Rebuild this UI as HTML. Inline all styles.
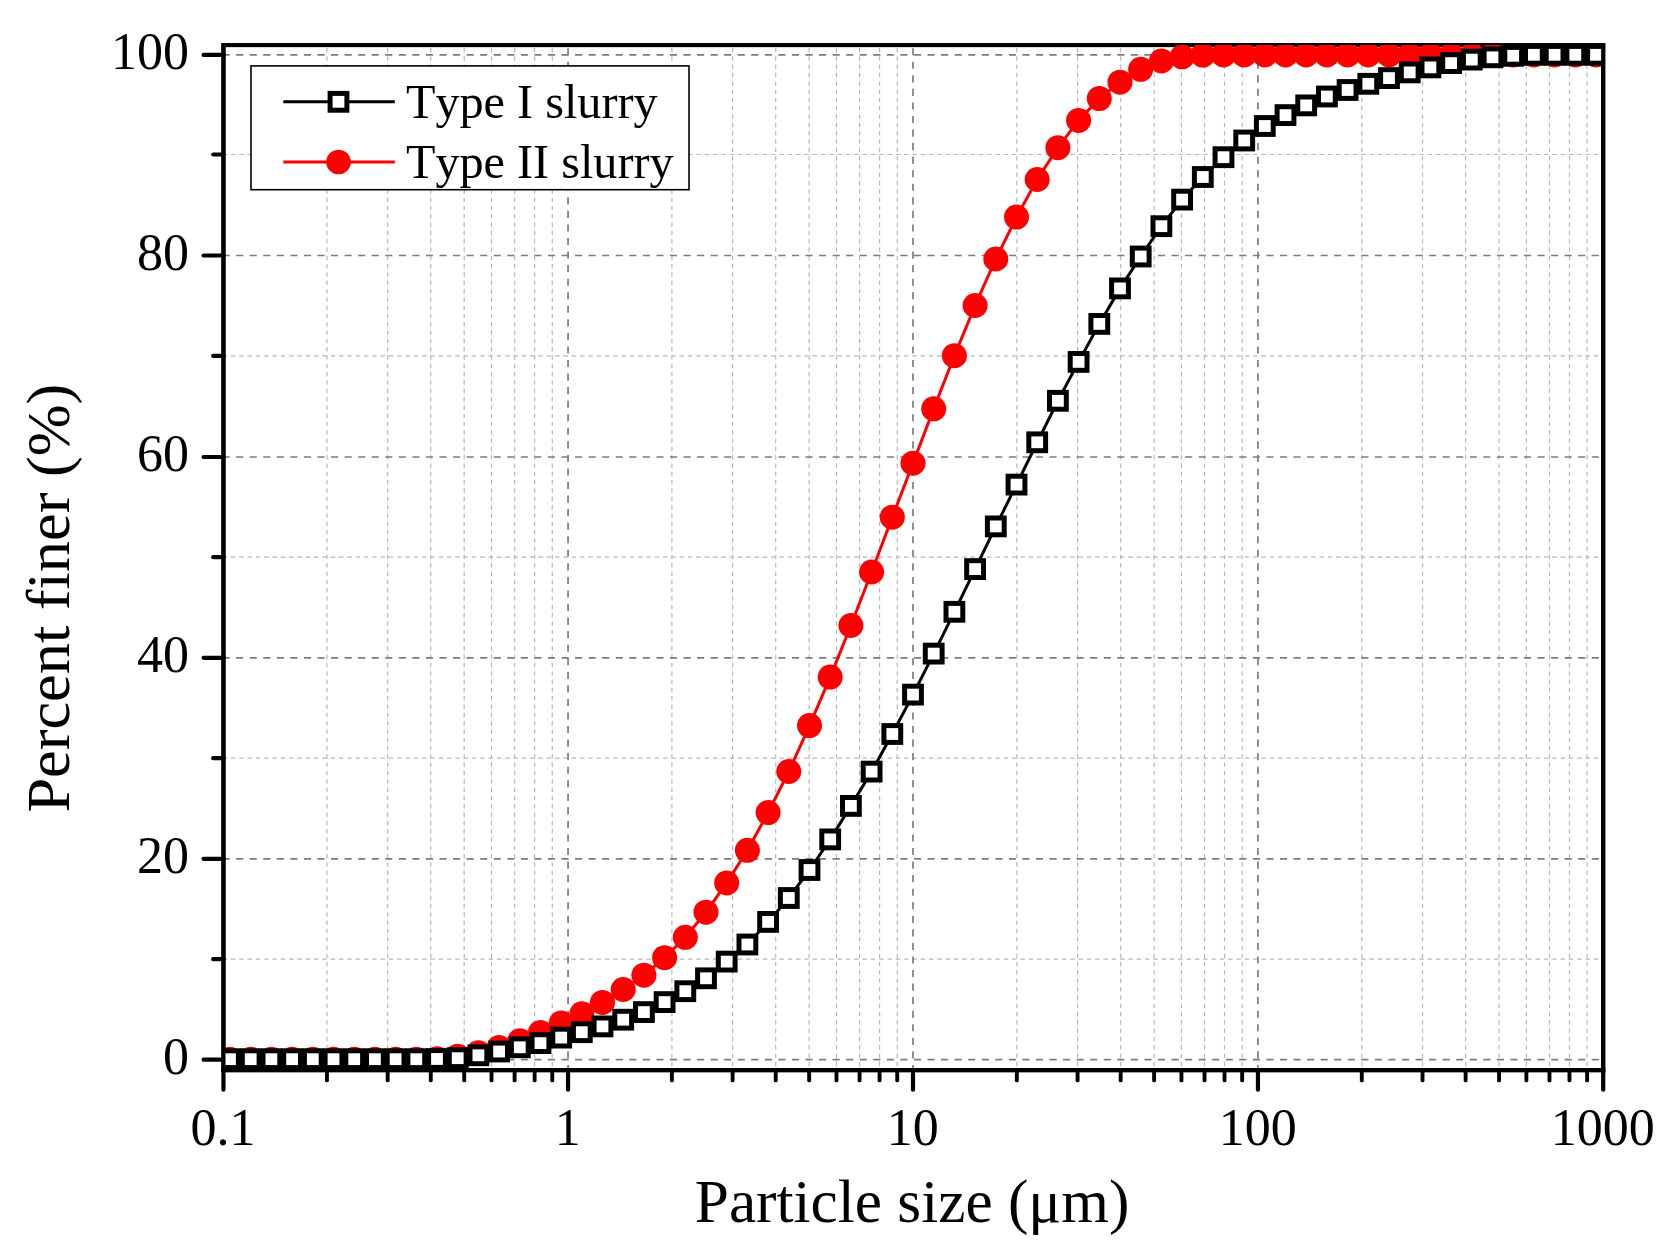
<!DOCTYPE html>
<html lang="en"><head><meta charset="utf-8"><title>Particle size distribution</title>
<style>html,body{margin:0;padding:0;background:#fff}svg{display:block}</style></head>
<body>
<svg width="1673" height="1256" viewBox="0 0 1673 1256">
<rect width="1673" height="1256" fill="#fff"/>
<defs><clipPath id="c"><rect x="223.45" y="45" width="1379.75" height="1025"/></clipPath></defs>
<g fill="none">
<line x1="326.94" y1="47.9" x2="326.94" y2="1070.1" stroke="#b8b8b8" stroke-width="1.2" stroke-dasharray="4.5 3.81"/>
<line x1="387.68" y1="47.9" x2="387.68" y2="1070.1" stroke="#b8b8b8" stroke-width="1.2" stroke-dasharray="4.5 3.81"/>
<line x1="430.78" y1="47.9" x2="430.78" y2="1070.1" stroke="#b8b8b8" stroke-width="1.2" stroke-dasharray="4.5 3.81"/>
<line x1="464.21" y1="47.9" x2="464.21" y2="1070.1" stroke="#b8b8b8" stroke-width="1.2" stroke-dasharray="4.5 3.81"/>
<line x1="491.52" y1="47.9" x2="491.52" y2="1070.1" stroke="#b8b8b8" stroke-width="1.2" stroke-dasharray="4.5 3.81"/>
<line x1="514.62" y1="47.9" x2="514.62" y2="1070.1" stroke="#b8b8b8" stroke-width="1.2" stroke-dasharray="4.5 3.81"/>
<line x1="534.62" y1="47.9" x2="534.62" y2="1070.1" stroke="#b8b8b8" stroke-width="1.2" stroke-dasharray="4.5 3.81"/>
<line x1="552.27" y1="47.9" x2="552.27" y2="1070.1" stroke="#b8b8b8" stroke-width="1.2" stroke-dasharray="4.5 3.81"/>
<line x1="671.89" y1="47.9" x2="671.89" y2="1070.1" stroke="#b8b8b8" stroke-width="1.2" stroke-dasharray="4.5 3.81"/>
<line x1="732.63" y1="47.9" x2="732.63" y2="1070.1" stroke="#b8b8b8" stroke-width="1.2" stroke-dasharray="4.5 3.81"/>
<line x1="775.73" y1="47.9" x2="775.73" y2="1070.1" stroke="#b8b8b8" stroke-width="1.2" stroke-dasharray="4.5 3.81"/>
<line x1="809.16" y1="47.9" x2="809.16" y2="1070.1" stroke="#b8b8b8" stroke-width="1.2" stroke-dasharray="4.5 3.81"/>
<line x1="836.47" y1="47.9" x2="836.47" y2="1070.1" stroke="#b8b8b8" stroke-width="1.2" stroke-dasharray="4.5 3.81"/>
<line x1="859.57" y1="47.9" x2="859.57" y2="1070.1" stroke="#b8b8b8" stroke-width="1.2" stroke-dasharray="4.5 3.81"/>
<line x1="879.57" y1="47.9" x2="879.57" y2="1070.1" stroke="#b8b8b8" stroke-width="1.2" stroke-dasharray="4.5 3.81"/>
<line x1="897.22" y1="47.9" x2="897.22" y2="1070.1" stroke="#b8b8b8" stroke-width="1.2" stroke-dasharray="4.5 3.81"/>
<line x1="1016.84" y1="47.9" x2="1016.84" y2="1070.1" stroke="#b8b8b8" stroke-width="1.2" stroke-dasharray="4.5 3.81"/>
<line x1="1077.58" y1="47.9" x2="1077.58" y2="1070.1" stroke="#b8b8b8" stroke-width="1.2" stroke-dasharray="4.5 3.81"/>
<line x1="1120.68" y1="47.9" x2="1120.68" y2="1070.1" stroke="#b8b8b8" stroke-width="1.2" stroke-dasharray="4.5 3.81"/>
<line x1="1154.11" y1="47.9" x2="1154.11" y2="1070.1" stroke="#b8b8b8" stroke-width="1.2" stroke-dasharray="4.5 3.81"/>
<line x1="1181.42" y1="47.9" x2="1181.42" y2="1070.1" stroke="#b8b8b8" stroke-width="1.2" stroke-dasharray="4.5 3.81"/>
<line x1="1204.52" y1="47.9" x2="1204.52" y2="1070.1" stroke="#b8b8b8" stroke-width="1.2" stroke-dasharray="4.5 3.81"/>
<line x1="1224.52" y1="47.9" x2="1224.52" y2="1070.1" stroke="#b8b8b8" stroke-width="1.2" stroke-dasharray="4.5 3.81"/>
<line x1="1242.17" y1="47.9" x2="1242.17" y2="1070.1" stroke="#b8b8b8" stroke-width="1.2" stroke-dasharray="4.5 3.81"/>
<line x1="1361.79" y1="47.9" x2="1361.79" y2="1070.1" stroke="#b8b8b8" stroke-width="1.2" stroke-dasharray="4.5 3.81"/>
<line x1="1422.53" y1="47.9" x2="1422.53" y2="1070.1" stroke="#b8b8b8" stroke-width="1.2" stroke-dasharray="4.5 3.81"/>
<line x1="1465.63" y1="47.9" x2="1465.63" y2="1070.1" stroke="#b8b8b8" stroke-width="1.2" stroke-dasharray="4.5 3.81"/>
<line x1="1499.06" y1="47.9" x2="1499.06" y2="1070.1" stroke="#b8b8b8" stroke-width="1.2" stroke-dasharray="4.5 3.81"/>
<line x1="1526.37" y1="47.9" x2="1526.37" y2="1070.1" stroke="#b8b8b8" stroke-width="1.2" stroke-dasharray="4.5 3.81"/>
<line x1="1549.47" y1="47.9" x2="1549.47" y2="1070.1" stroke="#b8b8b8" stroke-width="1.2" stroke-dasharray="4.5 3.81"/>
<line x1="1569.47" y1="47.9" x2="1569.47" y2="1070.1" stroke="#b8b8b8" stroke-width="1.2" stroke-dasharray="4.5 3.81"/>
<line x1="1587.12" y1="47.9" x2="1587.12" y2="1070.1" stroke="#b8b8b8" stroke-width="1.2" stroke-dasharray="4.5 3.81"/>
<line x1="222.6" y1="959.20" x2="1603.2" y2="959.20" stroke="#b8b8b8" stroke-width="1.2" stroke-dasharray="4.5 3.81"/>
<line x1="222.6" y1="758.20" x2="1603.2" y2="758.20" stroke="#b8b8b8" stroke-width="1.2" stroke-dasharray="4.5 3.81"/>
<line x1="222.6" y1="557.20" x2="1603.2" y2="557.20" stroke="#b8b8b8" stroke-width="1.2" stroke-dasharray="4.5 3.81"/>
<line x1="222.6" y1="355.90" x2="1603.2" y2="355.90" stroke="#b8b8b8" stroke-width="1.2" stroke-dasharray="4.5 3.81"/>
<line x1="222.6" y1="154.50" x2="1603.2" y2="154.50" stroke="#b8b8b8" stroke-width="1.2" stroke-dasharray="4.5 3.81"/>
<line x1="568.05" y1="48.2" x2="568.05" y2="1070.1" stroke="#7c7c7c" stroke-width="1.7" stroke-dasharray="7.1 6.456"/>
<line x1="913.00" y1="48.2" x2="913.00" y2="1070.1" stroke="#7c7c7c" stroke-width="1.7" stroke-dasharray="7.1 6.456"/>
<line x1="1257.95" y1="48.2" x2="1257.95" y2="1070.1" stroke="#7c7c7c" stroke-width="1.7" stroke-dasharray="7.1 6.456"/>
<line x1="222.6" y1="1059.70" x2="1603.2" y2="1059.70" stroke="#7c7c7c" stroke-width="1.7" stroke-dasharray="7.1 6.456"/>
<line x1="222.6" y1="858.80" x2="1603.2" y2="858.80" stroke="#7c7c7c" stroke-width="1.7" stroke-dasharray="7.1 6.456"/>
<line x1="222.6" y1="657.80" x2="1603.2" y2="657.80" stroke="#7c7c7c" stroke-width="1.7" stroke-dasharray="7.1 6.456"/>
<line x1="222.6" y1="457.00" x2="1603.2" y2="457.00" stroke="#7c7c7c" stroke-width="1.7" stroke-dasharray="7.1 6.456"/>
<line x1="222.6" y1="255.50" x2="1603.2" y2="255.50" stroke="#7c7c7c" stroke-width="1.7" stroke-dasharray="7.1 6.456"/>
<line x1="222.6" y1="54.90" x2="1603.2" y2="54.90" stroke="#7c7c7c" stroke-width="1.7" stroke-dasharray="7.1 6.456"/>
</g>
<g fill="none" stroke="#000" stroke-width="4.1" stroke-linecap="round">
<rect x="223.45" y="45.1" width="1379.75" height="1025.00" stroke-linejoin="miter"/>
<line x1="203.6" y1="1059.70" x2="223.45" y2="1059.70" stroke-width="4.2"/>
<line x1="203.6" y1="858.80" x2="223.45" y2="858.80" stroke-width="4.2"/>
<line x1="203.6" y1="657.80" x2="223.45" y2="657.80" stroke-width="4.2"/>
<line x1="203.6" y1="457.00" x2="223.45" y2="457.00" stroke-width="4.2"/>
<line x1="203.6" y1="255.50" x2="223.45" y2="255.50" stroke-width="4.2"/>
<line x1="203.6" y1="54.90" x2="223.45" y2="54.90" stroke-width="4.2"/>
<line x1="213.2" y1="959.20" x2="223.45" y2="959.20" stroke-width="4.2"/>
<line x1="213.2" y1="758.20" x2="223.45" y2="758.20" stroke-width="4.2"/>
<line x1="213.2" y1="557.20" x2="223.45" y2="557.20" stroke-width="4.2"/>
<line x1="213.2" y1="355.90" x2="223.45" y2="355.90" stroke-width="4.2"/>
<line x1="213.2" y1="154.50" x2="223.45" y2="154.50" stroke-width="4.2"/>
<line x1="223.45" y1="1070.1" x2="223.45" y2="1089.7" stroke-width="4.2"/>
<line x1="568.05" y1="1070.1" x2="568.05" y2="1089.7" stroke-width="4.2"/>
<line x1="913.00" y1="1070.1" x2="913.00" y2="1089.7" stroke-width="4.2"/>
<line x1="1257.95" y1="1070.1" x2="1257.95" y2="1089.7" stroke-width="4.2"/>
<line x1="1603.20" y1="1070.1" x2="1603.20" y2="1089.7" stroke-width="4.2"/>
<line x1="326.94" y1="1070.1" x2="326.94" y2="1080.4" stroke-width="3.9"/>
<line x1="387.68" y1="1070.1" x2="387.68" y2="1080.4" stroke-width="3.9"/>
<line x1="430.78" y1="1070.1" x2="430.78" y2="1080.4" stroke-width="3.9"/>
<line x1="464.21" y1="1070.1" x2="464.21" y2="1080.4" stroke-width="3.9"/>
<line x1="491.52" y1="1070.1" x2="491.52" y2="1080.4" stroke-width="3.9"/>
<line x1="514.62" y1="1070.1" x2="514.62" y2="1080.4" stroke-width="3.9"/>
<line x1="534.62" y1="1070.1" x2="534.62" y2="1080.4" stroke-width="3.9"/>
<line x1="552.27" y1="1070.1" x2="552.27" y2="1080.4" stroke-width="3.9"/>
<line x1="671.89" y1="1070.1" x2="671.89" y2="1080.4" stroke-width="3.9"/>
<line x1="732.63" y1="1070.1" x2="732.63" y2="1080.4" stroke-width="3.9"/>
<line x1="775.73" y1="1070.1" x2="775.73" y2="1080.4" stroke-width="3.9"/>
<line x1="809.16" y1="1070.1" x2="809.16" y2="1080.4" stroke-width="3.9"/>
<line x1="836.47" y1="1070.1" x2="836.47" y2="1080.4" stroke-width="3.9"/>
<line x1="859.57" y1="1070.1" x2="859.57" y2="1080.4" stroke-width="3.9"/>
<line x1="879.57" y1="1070.1" x2="879.57" y2="1080.4" stroke-width="3.9"/>
<line x1="897.22" y1="1070.1" x2="897.22" y2="1080.4" stroke-width="3.9"/>
<line x1="1016.84" y1="1070.1" x2="1016.84" y2="1080.4" stroke-width="3.9"/>
<line x1="1077.58" y1="1070.1" x2="1077.58" y2="1080.4" stroke-width="3.9"/>
<line x1="1120.68" y1="1070.1" x2="1120.68" y2="1080.4" stroke-width="3.9"/>
<line x1="1154.11" y1="1070.1" x2="1154.11" y2="1080.4" stroke-width="3.9"/>
<line x1="1181.42" y1="1070.1" x2="1181.42" y2="1080.4" stroke-width="3.9"/>
<line x1="1204.52" y1="1070.1" x2="1204.52" y2="1080.4" stroke-width="3.9"/>
<line x1="1224.52" y1="1070.1" x2="1224.52" y2="1080.4" stroke-width="3.9"/>
<line x1="1242.17" y1="1070.1" x2="1242.17" y2="1080.4" stroke-width="3.9"/>
<line x1="1361.79" y1="1070.1" x2="1361.79" y2="1080.4" stroke-width="3.9"/>
<line x1="1422.53" y1="1070.1" x2="1422.53" y2="1080.4" stroke-width="3.9"/>
<line x1="1465.63" y1="1070.1" x2="1465.63" y2="1080.4" stroke-width="3.9"/>
<line x1="1499.06" y1="1070.1" x2="1499.06" y2="1080.4" stroke-width="3.9"/>
<line x1="1526.37" y1="1070.1" x2="1526.37" y2="1080.4" stroke-width="3.9"/>
<line x1="1549.47" y1="1070.1" x2="1549.47" y2="1080.4" stroke-width="3.9"/>
<line x1="1569.47" y1="1070.1" x2="1569.47" y2="1080.4" stroke-width="3.9"/>
<line x1="1587.12" y1="1070.1" x2="1587.12" y2="1080.4" stroke-width="3.9"/>
</g>
<g clip-path="url(#c)">
<polyline fill="none" stroke="#ff0000" stroke-width="3" points="230.0,1059.2 250.7,1059.2 271.4,1059.2 292.1,1059.2 312.8,1059.2 333.5,1059.2 354.2,1059.2 374.9,1059.2 395.6,1059.2 416.3,1059.2 437.0,1058.7 457.7,1056.2 478.4,1052.8 499.1,1047.4 519.8,1040.8 540.5,1032.4 561.2,1023.0 581.8,1013.8 602.5,1002.4 623.2,989.5 643.9,975.2 664.6,957.7 685.3,937.3 706.0,912.2 726.7,882.9 747.4,850.3 768.1,812.6 788.8,771.5 809.5,725.6 830.2,677.1 850.9,625.5 871.6,572.0 892.3,517.2 913.0,463.2 933.7,408.8 954.4,355.7 975.1,305.5 995.8,259.0 1016.5,217.1 1037.2,179.5 1057.9,147.7 1078.6,120.4 1099.3,98.6 1120.0,82.2 1140.7,69.3 1161.4,61.0 1182.1,56.8 1202.8,55.1 1223.5,54.9 1244.2,54.9 1264.8,54.9 1285.5,54.9 1306.2,54.9 1326.9,54.9 1347.6,54.9 1368.3,54.9 1389.0,54.9 1409.7,54.9 1430.4,54.9 1451.1,54.9 1471.8,54.9 1492.5,54.9 1513.2,54.9 1533.9,54.9 1554.6,54.9 1575.3,54.9 1596.0,54.9"/>
<g fill="#ff0000"><circle cx="230.0" cy="1059.2" r="12.5"/><circle cx="250.7" cy="1059.2" r="12.5"/><circle cx="271.4" cy="1059.2" r="12.5"/><circle cx="292.1" cy="1059.2" r="12.5"/><circle cx="312.8" cy="1059.2" r="12.5"/><circle cx="333.5" cy="1059.2" r="12.5"/><circle cx="354.2" cy="1059.2" r="12.5"/><circle cx="374.9" cy="1059.2" r="12.5"/><circle cx="395.6" cy="1059.2" r="12.5"/><circle cx="416.3" cy="1059.2" r="12.5"/><circle cx="437.0" cy="1058.7" r="12.5"/><circle cx="457.7" cy="1056.2" r="12.5"/><circle cx="478.4" cy="1052.8" r="12.5"/><circle cx="499.1" cy="1047.4" r="12.5"/><circle cx="519.8" cy="1040.8" r="12.5"/><circle cx="540.5" cy="1032.4" r="12.5"/><circle cx="561.2" cy="1023.0" r="12.5"/><circle cx="581.8" cy="1013.8" r="12.5"/><circle cx="602.5" cy="1002.4" r="12.5"/><circle cx="623.2" cy="989.5" r="12.5"/><circle cx="643.9" cy="975.2" r="12.5"/><circle cx="664.6" cy="957.7" r="12.5"/><circle cx="685.3" cy="937.3" r="12.5"/><circle cx="706.0" cy="912.2" r="12.5"/><circle cx="726.7" cy="882.9" r="12.5"/><circle cx="747.4" cy="850.3" r="12.5"/><circle cx="768.1" cy="812.6" r="12.5"/><circle cx="788.8" cy="771.5" r="12.5"/><circle cx="809.5" cy="725.6" r="12.5"/><circle cx="830.2" cy="677.1" r="12.5"/><circle cx="850.9" cy="625.5" r="12.5"/><circle cx="871.6" cy="572.0" r="12.5"/><circle cx="892.3" cy="517.2" r="12.5"/><circle cx="913.0" cy="463.2" r="12.5"/><circle cx="933.7" cy="408.8" r="12.5"/><circle cx="954.4" cy="355.7" r="12.5"/><circle cx="975.1" cy="305.5" r="12.5"/><circle cx="995.8" cy="259.0" r="12.5"/><circle cx="1016.5" cy="217.1" r="12.5"/><circle cx="1037.2" cy="179.5" r="12.5"/><circle cx="1057.9" cy="147.7" r="12.5"/><circle cx="1078.6" cy="120.4" r="12.5"/><circle cx="1099.3" cy="98.6" r="12.5"/><circle cx="1120.0" cy="82.2" r="12.5"/><circle cx="1140.7" cy="69.3" r="12.5"/><circle cx="1161.4" cy="61.0" r="12.5"/><circle cx="1182.1" cy="56.8" r="12.5"/><circle cx="1202.8" cy="55.1" r="12.5"/><circle cx="1223.5" cy="54.9" r="12.5"/><circle cx="1244.2" cy="54.9" r="12.5"/><circle cx="1264.8" cy="54.9" r="12.5"/><circle cx="1285.5" cy="54.9" r="12.5"/><circle cx="1306.2" cy="54.9" r="12.5"/><circle cx="1326.9" cy="54.9" r="12.5"/><circle cx="1347.6" cy="54.9" r="12.5"/><circle cx="1368.3" cy="54.9" r="12.5"/><circle cx="1389.0" cy="54.9" r="12.5"/><circle cx="1409.7" cy="54.9" r="12.5"/><circle cx="1430.4" cy="54.9" r="12.5"/><circle cx="1451.1" cy="54.9" r="12.5"/><circle cx="1471.8" cy="54.9" r="12.5"/><circle cx="1492.5" cy="54.9" r="12.5"/><circle cx="1513.2" cy="54.9" r="12.5"/><circle cx="1533.9" cy="54.9" r="12.5"/><circle cx="1554.6" cy="54.9" r="12.5"/><circle cx="1575.3" cy="54.9" r="12.5"/><circle cx="1596.0" cy="54.9" r="12.5"/></g>
<polyline fill="none" stroke="#000" stroke-width="3" points="230.0,1059.2 250.7,1059.2 271.4,1059.2 292.1,1059.2 312.8,1059.2 333.5,1059.2 354.2,1059.2 374.9,1059.2 395.6,1059.2 416.3,1059.2 437.0,1059.0 457.7,1058.2 478.4,1055.3 499.1,1051.5 519.8,1047.3 540.5,1043.1 561.2,1037.6 581.8,1032.2 602.5,1026.4 623.2,1019.7 643.9,1012.1 664.6,1002.1 685.3,991.2 706.0,978.3 726.7,961.6 747.4,944.5 768.1,921.9 788.8,898.0 809.5,870.0 830.2,839.4 850.9,805.9 871.6,771.6 892.3,734.0 913.0,694.6 933.7,653.6 954.4,611.8 975.1,569.1 995.8,526.4 1016.5,484.6 1037.2,442.3 1057.9,400.8 1078.6,361.9 1099.3,323.9 1120.0,288.4 1140.7,256.5 1161.4,226.2 1182.1,199.6 1202.8,177.0 1223.5,157.2 1244.2,140.5 1264.8,126.0 1285.5,115.1 1306.2,105.4 1326.9,96.5 1347.6,90.0 1368.3,83.8 1389.0,78.1 1409.7,72.4 1430.4,67.4 1451.1,63.1 1471.8,59.6 1492.5,57.3 1513.2,55.8 1533.9,54.8 1554.6,54.8 1575.3,54.8 1596.0,54.8"/>
<g fill="#fff" stroke="#000" stroke-width="5.0"><rect x="221.6" y="1050.8" width="16.8" height="16.8"/><rect x="242.3" y="1050.8" width="16.8" height="16.8"/><rect x="263.0" y="1050.8" width="16.8" height="16.8"/><rect x="283.7" y="1050.8" width="16.8" height="16.8"/><rect x="304.4" y="1050.8" width="16.8" height="16.8"/><rect x="325.1" y="1050.8" width="16.8" height="16.8"/><rect x="345.8" y="1050.8" width="16.8" height="16.8"/><rect x="366.5" y="1050.8" width="16.8" height="16.8"/><rect x="387.2" y="1050.8" width="16.8" height="16.8"/><rect x="407.9" y="1050.8" width="16.8" height="16.8"/><rect x="428.6" y="1050.6" width="16.8" height="16.8"/><rect x="449.3" y="1049.8" width="16.8" height="16.8"/><rect x="470.0" y="1046.9" width="16.8" height="16.8"/><rect x="490.7" y="1043.1" width="16.8" height="16.8"/><rect x="511.4" y="1038.9" width="16.8" height="16.8"/><rect x="532.1" y="1034.7" width="16.8" height="16.8"/><rect x="552.8" y="1029.2" width="16.8" height="16.8"/><rect x="573.4" y="1023.8" width="16.8" height="16.8"/><rect x="594.1" y="1018.0" width="16.8" height="16.8"/><rect x="614.8" y="1011.3" width="16.8" height="16.8"/><rect x="635.5" y="1003.7" width="16.8" height="16.8"/><rect x="656.2" y="993.7" width="16.8" height="16.8"/><rect x="676.9" y="982.8" width="16.8" height="16.8"/><rect x="697.6" y="969.9" width="16.8" height="16.8"/><rect x="718.3" y="953.2" width="16.8" height="16.8"/><rect x="739.0" y="936.1" width="16.8" height="16.8"/><rect x="759.7" y="913.5" width="16.8" height="16.8"/><rect x="780.4" y="889.6" width="16.8" height="16.8"/><rect x="801.1" y="861.6" width="16.8" height="16.8"/><rect x="821.8" y="831.0" width="16.8" height="16.8"/><rect x="842.5" y="797.5" width="16.8" height="16.8"/><rect x="863.2" y="763.2" width="16.8" height="16.8"/><rect x="883.9" y="725.6" width="16.8" height="16.8"/><rect x="904.6" y="686.2" width="16.8" height="16.8"/><rect x="925.3" y="645.2" width="16.8" height="16.8"/><rect x="946.0" y="603.4" width="16.8" height="16.8"/><rect x="966.7" y="560.7" width="16.8" height="16.8"/><rect x="987.4" y="518.0" width="16.8" height="16.8"/><rect x="1008.1" y="476.2" width="16.8" height="16.8"/><rect x="1028.8" y="433.9" width="16.8" height="16.8"/><rect x="1049.5" y="392.4" width="16.8" height="16.8"/><rect x="1070.2" y="353.5" width="16.8" height="16.8"/><rect x="1090.9" y="315.5" width="16.8" height="16.8"/><rect x="1111.6" y="280.0" width="16.8" height="16.8"/><rect x="1132.3" y="248.1" width="16.8" height="16.8"/><rect x="1153.0" y="217.8" width="16.8" height="16.8"/><rect x="1173.7" y="191.2" width="16.8" height="16.8"/><rect x="1194.4" y="168.6" width="16.8" height="16.8"/><rect x="1215.1" y="148.8" width="16.8" height="16.8"/><rect x="1235.8" y="132.1" width="16.8" height="16.8"/><rect x="1256.4" y="117.6" width="16.8" height="16.8"/><rect x="1277.1" y="106.7" width="16.8" height="16.8"/><rect x="1297.8" y="97.0" width="16.8" height="16.8"/><rect x="1318.5" y="88.1" width="16.8" height="16.8"/><rect x="1339.2" y="81.6" width="16.8" height="16.8"/><rect x="1359.9" y="75.4" width="16.8" height="16.8"/><rect x="1380.6" y="69.7" width="16.8" height="16.8"/><rect x="1401.3" y="64.0" width="16.8" height="16.8"/><rect x="1422.0" y="59.0" width="16.8" height="16.8"/><rect x="1442.7" y="54.7" width="16.8" height="16.8"/><rect x="1463.4" y="51.2" width="16.8" height="16.8"/><rect x="1484.1" y="48.9" width="16.8" height="16.8"/><rect x="1504.8" y="47.4" width="16.8" height="16.8"/><rect x="1525.5" y="46.4" width="16.8" height="16.8"/><rect x="1546.2" y="46.4" width="16.8" height="16.8"/><rect x="1566.9" y="46.4" width="16.8" height="16.8"/><rect x="1587.6" y="46.4" width="16.8" height="16.8"/></g>
</g>
<g fill="none" stroke="#000" stroke-width="4.1" stroke-linecap="butt">
<line x1="223.45" y1="43.05" x2="223.45" y2="1072.15"/>
<line x1="221.40" y1="1070.1" x2="1605.25" y2="1070.1"/>
<line x1="1603.2" y1="43.05" x2="1603.2" y2="1072.15"/>
</g>
<rect x="251" y="65.9" width="438" height="123.8" fill="#fff" stroke="#000" stroke-width="1.6"/>
<line x1="283.3" y1="101.8" x2="394.8" y2="101.8" stroke="#000" stroke-width="3"/>
<rect x="330.10" y="93.40" width="16.8" height="16.8" fill="#fff" stroke="#000" stroke-width="5.0"/>
<line x1="283.3" y1="162" x2="394.8" y2="162" stroke="#ff0000" stroke-width="3"/>
<circle cx="338.5" cy="162" r="12.3" fill="#ff0000"/>
<g font-family="'Liberation Serif', 'Times New Roman', serif" fill="#000" style="font-kerning:none">
<g font-size="48.2px"><text x="406" y="118.0">Type I slurry</text><text x="406" y="177.7">Type II slurry</text></g>
<g font-size="52px" text-anchor="end">
<text x="189.1" y="1073.8">0</text>
<text x="189.1" y="872.9">20</text>
<text x="189.1" y="671.9">40</text>
<text x="189.1" y="471.1">60</text>
<text x="189.1" y="269.6">80</text>
<text x="189.1" y="69.0">100</text>
</g>
<g font-size="52px" text-anchor="middle">
<text x="222.9" y="1145.3">0.1</text>
<text x="567.8" y="1145.3">1</text>
<text x="912.8" y="1145.3">10</text>
<text x="1257.7" y="1145.3">100</text>
<text x="1602.7" y="1145.3">1000</text>
</g>
<text font-size="61.3px" x="694.8" y="1221.7">Particle size (μm)</text>
<text font-size="62.3px" transform="translate(69.2 812.6) rotate(-90)">Percent finer (%)</text>
</g>
</svg>
</body></html>
